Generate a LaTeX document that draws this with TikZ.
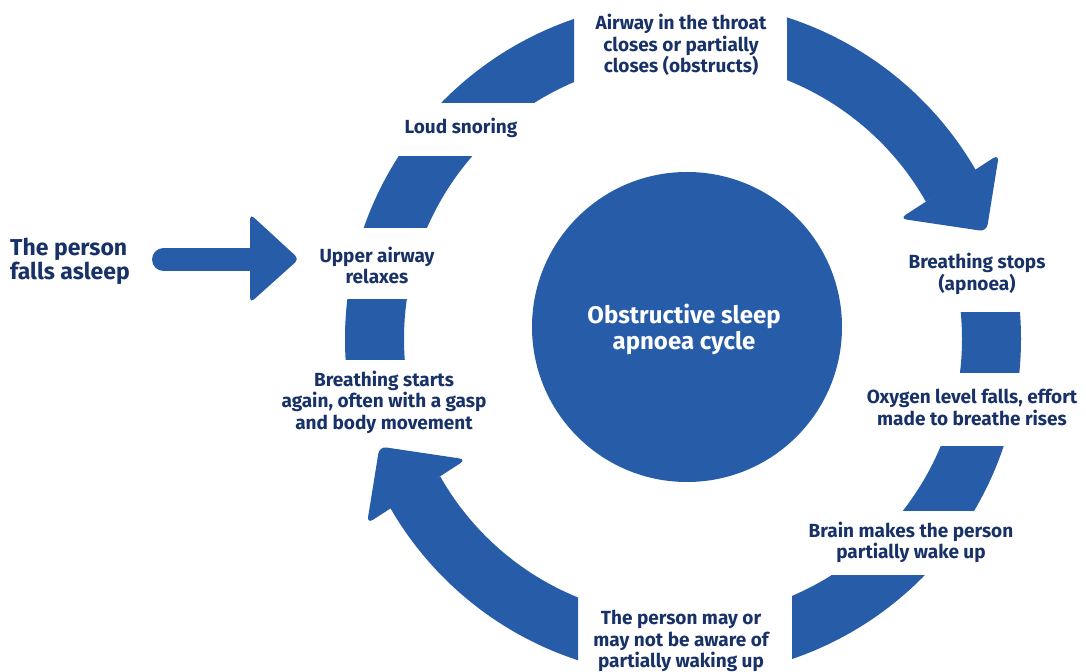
\documentclass[tikz,border=0pt]{standalone}
\usepackage{fontspec}
\setmainfont{Fira Sans}
\definecolor{ringblue}{RGB}{38,92,168}
\definecolor{textblue}{RGB}{24,50,104}
\begin{document}
\begin{tikzpicture}[x=1bp,y=1bp,
  lbl/.style={text=textblue, font=\bfseries\fontsize{19bp}{21.5bp}\selectfont, align=center, inner sep=0pt},
  bigl/.style={text=textblue, font=\bfseries\fontsize{23bp}{23.5bp}\selectfont, align=left, inner sep=0pt},
  title/.style={text=white, font=\bfseries\fontsize{24bp}{26bp}\selectfont, align=center, inner sep=0pt},
  ringpart/.style={fill=ringblue, even odd rule}]
\useasboundingbox (0,0) rectangle (1086,672);
\coordinate (C) at (683,333);
% central disc
\fill[ringblue] (687,345) circle[radius=155];
% ring segments cut by straight lines
\begin{scope}
  \clip (300,569) rectangle (574,680);
  \fill[ringpart] (C) circle[radius=338] (C) circle[radius=279];
\end{scope}
\begin{scope}
  \clip (300,444) rectangle (683,515);
  \fill[ringpart] (C) circle[radius=338] (C) circle[radius=279];
\end{scope}
\begin{scope}
  \clip (300,312) rectangle (683,372);
  \fill[ringpart] (C) circle[radius=338] (C) circle[radius=279];
\end{scope}
\begin{scope}
  \clip (683,299) rectangle (1086,359);
  \fill[ringpart] (C) circle[radius=338] (C) circle[radius=279];
\end{scope}
\begin{scope}
  \clip (683,161) rectangle (1086,225);
  \fill[ringpart] (C) circle[radius=338] (C) circle[radius=279];
\end{scope}
\begin{scope}
  \clip (792,-10) rectangle (1086,96);
  \fill[ringpart] (C) circle[radius=338] (C) circle[radius=279];
\end{scope}
% curved arrows
\begin{scope}[shift={(683,333)}]
  \fill[ringblue] (72.08:338) arc[start angle=72.08, end angle=29.5, radius=338]
     -- (29.5:279) arc[start angle=29.5, end angle=68.11, radius=279] -- cycle;
  \fill[ringblue, rounded corners=7bp] (30.3:366) -- (19.5:322) -- (29.05:248) -- cycle;
  \fill[ringblue] (251.9:338) arc[start angle=251.9, end angle=209.5, radius=338]
     -- (209.5:279) arc[start angle=209.5, end angle=247.89, radius=279] -- cycle;
  \fill[ringblue, rounded corners=7bp] (210.3:366) -- (199.5:322) -- (209.05:248) -- cycle;
\end{scope}
% labels
\node[lbl] (airway) at (681,627) {Airway in the throat\\closes or partially\\closes (obstructs)};
\node[lbl] (snore) at (461,544) {Loud snoring};
\node[lbl] (relax) at (377,406.5) {Upper airway\\relaxes};
\node[lbl] (again) at (384,270) {Breathing starts\\again, often with a gasp\\and body movement};
\node[lbl] (stops) at (977,398) {Breathing stops\\(apnoea)};
\node[lbl] (oxygen) at (972,264.5) {Oxygen level falls, effort\\made to breathe rises};
\node[lbl] (brain) at (911,129.5) {Brain makes the person\\partially wake up};
\node[lbl] (aware) at (681,31) {The person may or\\may not be aware of\\partially waking up};
\node[title] (cycle) at (684,343) {Obstructive sleep\\apnoea cycle};
\node[bigl, anchor=west] (asleep) at (10,410.5) {The person\\falls asleep};
% entry arrow
\coordinate (arrS) at (163.5,412.5);
\coordinate (arrB) at (255,412.5);
\draw[ringblue, line width=23bp, line cap=round] (arrS) -- (arrB);
\fill[ringblue, rounded corners=5bp] (250,458) -- (299,413) -- (250,369) -- cycle;
\end{tikzpicture}
\end{document}
